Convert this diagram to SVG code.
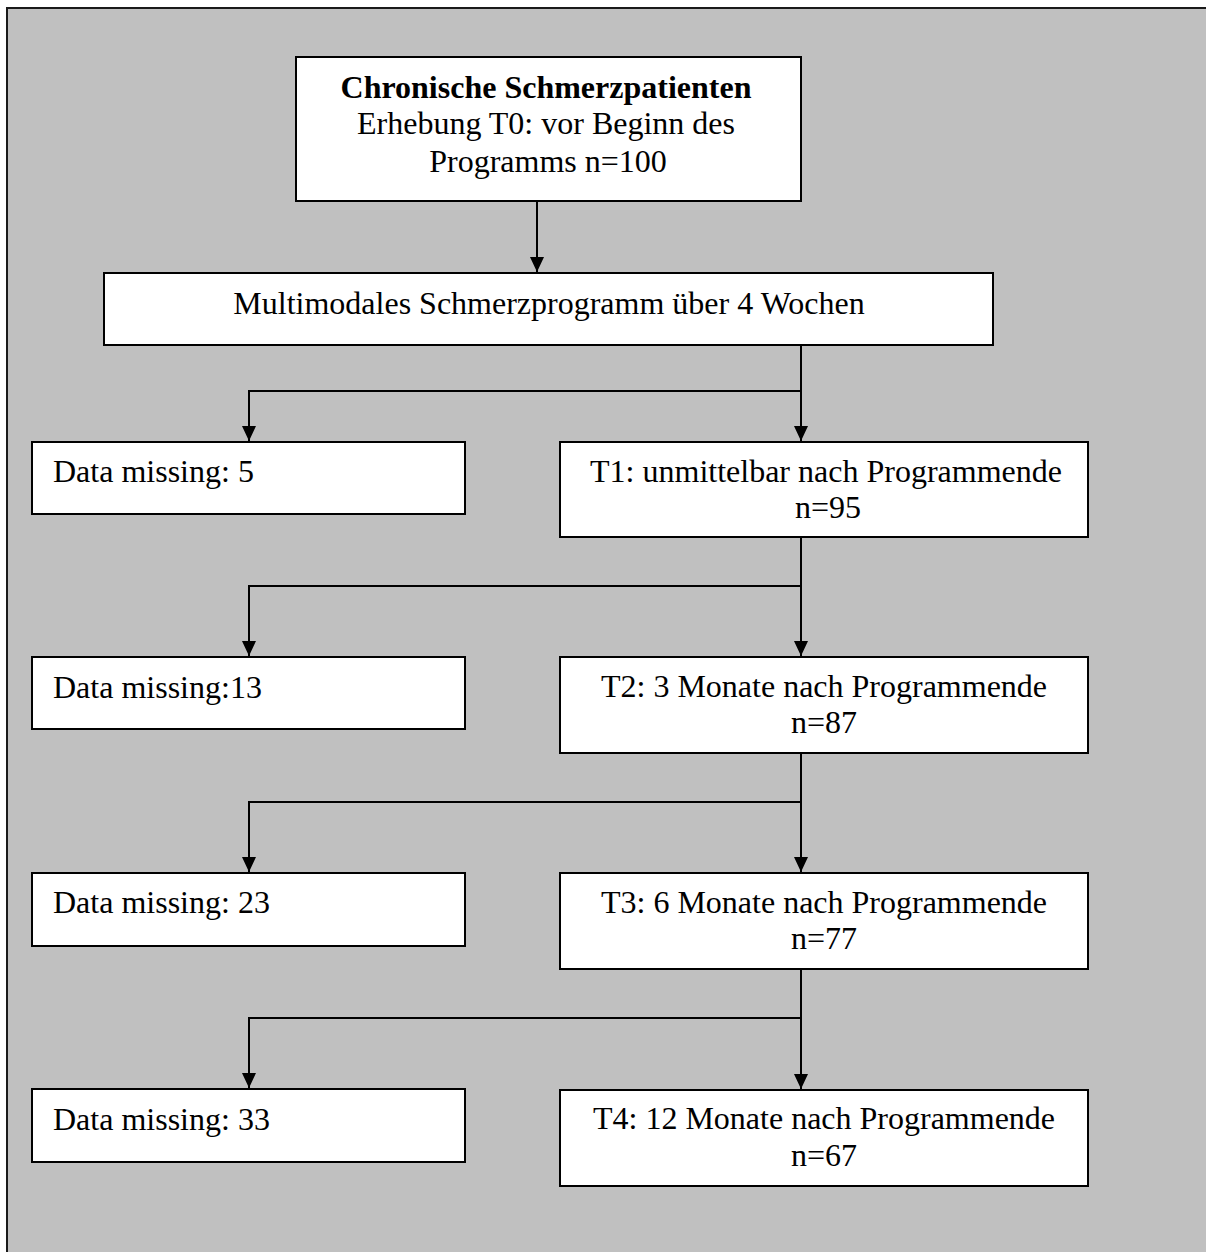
<svg xmlns="http://www.w3.org/2000/svg" width="1206" height="1252" viewBox="0 0 1206 1252">
<defs>
<style>
.box{fill:#ffffff;stroke:#000000;stroke-width:2}
.t{font-family:"Liberation Serif","Times New Roman",serif;font-size:32px;fill:#000000}
.c{text-anchor:middle}
.b{font-weight:bold}
.ln{fill:none;stroke:#000000;stroke-width:2;marker-end:url(#ah)}
</style>
<marker id="ah" markerWidth="15" markerHeight="14" refX="15" refY="7" orient="auto" markerUnits="userSpaceOnUse" viewBox="0 0 15 14">
<path d="M0,0 L15,7 L0,14 Z" fill="#000000"/>
</marker>
</defs>
<rect x="0" y="0" width="1206" height="1252" fill="#ffffff"/>
<rect x="7" y="8" width="1212" height="1260" fill="#c0c0c0" stroke="#1a1a1a" stroke-width="2"/>

<g id="connectors">
<path class="ln" d="M537,201 V272"/>
<path class="ln" d="M801,346 V441"/>
<path class="ln" d="M801,391 H249 V441"/>
<path class="ln" d="M801,538 V656"/>
<path class="ln" d="M801,586 H249 V656"/>
<path class="ln" d="M801,754 V872"/>
<path class="ln" d="M801,802 H249 V872"/>
<path class="ln" d="M801,970 V1089"/>
<path class="ln" d="M801,1018 H249 V1088"/>
</g>

<g id="n0">
<rect class="box" x="296" y="57" width="505" height="144"/>
<text class="t c b" x="546" y="98">Chronische Schmerzpatienten</text>
<text class="t c" x="546" y="134">Erhebung T0: vor Beginn des</text>
<text class="t c" x="548" y="172">Programms n=100</text>
</g>

<g id="n1">
<rect class="box" x="104" y="273" width="889" height="72"/>
<text class="t c" x="549" y="314">Multimodales Schmerzprogramm über 4 Wochen</text>
</g>

<g id="m1">
<rect class="box" x="32" y="442" width="433" height="72"/>
<text class="t" x="53" y="482">Data missing: 5</text>
</g>
<g id="t1">
<rect class="box" x="560" y="442" width="528" height="95"/>
<text class="t c" x="826" y="482">T1: unmittelbar nach Programmende</text>
<text class="t c" x="828" y="518">n=95</text>
</g>

<g id="m2">
<rect class="box" x="32" y="657" width="433" height="72"/>
<text class="t" x="53" y="698">Data missing:13</text>
</g>
<g id="t2">
<rect class="box" x="560" y="657" width="528" height="96"/>
<text class="t c" x="824" y="697">T2: 3 Monate nach Programmende</text>
<text class="t c" x="824" y="733">n=87</text>
</g>

<g id="m3">
<rect class="box" x="32" y="873" width="433" height="73"/>
<text class="t" x="53" y="913">Data missing: 23</text>
</g>
<g id="t3">
<rect class="box" x="560" y="873" width="528" height="96"/>
<text class="t c" x="824" y="913">T3: 6 Monate nach Programmende</text>
<text class="t c" x="824" y="949">n=77</text>
</g>

<g id="m4">
<rect class="box" x="32" y="1089" width="433" height="73"/>
<text class="t" x="53" y="1130">Data missing: 33</text>
</g>
<g id="t4">
<rect class="box" x="560" y="1090" width="528" height="96"/>
<text class="t c" x="824" y="1129">T4: 12 Monate nach Programmende</text>
<text class="t c" x="824" y="1166">n=67</text>
</g>
</svg>
